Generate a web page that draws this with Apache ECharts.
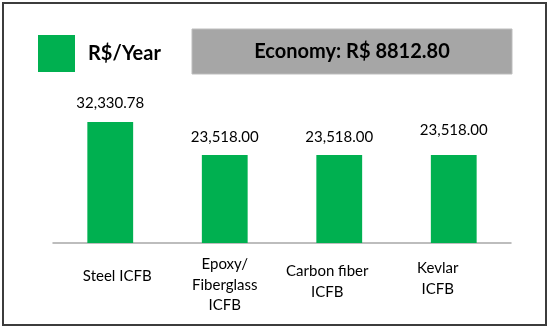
<!DOCTYPE html>
<html>
<head>
<meta charset="utf-8">
<script src="https://cdn.jsdelivr.net/npm/echarts@6/dist/echarts.min.js"></script>
<style>
html,body{margin:0;padding:0;background:#fff;}
#chart{width:550px;height:330px;}
</style>
</head>
<body>
<div id="chart"></div>
<script>
// ---- data ----
var categories = ['Steel ICFB', 'Epoxy/\nFiberglass\nICFB', 'Carbon fiber\nICFB', 'Kevlar\nICFB'];
var values = [32330.78, 23518.00, 23518.00, 23518.00];
var seriesName = 'R$/Year';
var economyText = 'Economy: R$ 8812.80';

// ---- style config (not data) ----
var catPadding = [[12, 0, 0, 14], [0, 0, 0, 0], [7, 24, 0, 0], [4, 32, 0, 0]];
var labelDistance = [11, 10, 10, 17];
var FONT = 'Lato, "Open Sans", sans-serif';

function fmt(v) {
  return v.toLocaleString('en-US', {minimumFractionDigits: 2, maximumFractionDigits: 2});
}

var chart = echarts.init(document.getElementById('chart'), null, {renderer: 'canvas'});
var option = {
  animation: false,
  backgroundColor: '#ffffff',
  textStyle: {fontFamily: FONT},
  grid: {left: 53, right: 39, top: 56, bottom: 87, containLabel: false},
  legend: {
    left: 33, top: 30,
    icon: 'rect',
    itemWidth: 37, itemHeight: 37,
    itemGap: 10,
    textStyle: {fontFamily: FONT, fontSize: 20, fontWeight: 'bold', color: '#000', padding: [0, 0, 0, 8]},
    data: [seriesName]
  },
  xAxis: {
    type: 'category',
    data: categories.map(function (c, i) {
      return {value: c, textStyle: {padding: catPadding[i]}};
    }),
    axisLine: {show: true, lineStyle: {color: '#a8a8a8', width: 1.5}},
    axisTick: {show: false},
    axisLabel: {
      interval: 0, margin: 11, verticalAlign: 'top', lineHeight: 20.5,
      fontFamily: FONT, fontSize: 15, color: '#000'
    }
  },
  yAxis: {
    type: 'value', min: 0, max: 50000, interval: 10000,
    show: false, splitLine: {show: false}
  },
  series: [{
    name: seriesName,
    type: 'bar',
    barWidth: '40%',
    itemStyle: {color: '#00b050'},
    data: values.map(function (v, i) {
      return {value: v, label: {distance: labelDistance[i]}};
    }),
    label: {
      show: true, position: 'top',
      fontFamily: FONT, fontSize: 15, color: '#000',
      formatter: function (p) { return fmt(p.value); }
    }
  }],
  graphic: [
    {
      type: 'rect', z: -10, silent: true,
      shape: {x: 3, y: 3, width: 543, height: 322},
      style: {fill: 'none', stroke: '#3c3c3c', lineWidth: 2}
    },
    {
      type: 'rect', silent: true,
      shape: {x: 192, y: 29, width: 320, height: 45},
      style: {fill: '#a6a6a6', stroke: '#bdbdbd', lineWidth: 1}
    },
    {
      type: 'text', silent: true,
      x: 352, y: 51.5,
      style: {
        text: economyText, align: 'center', verticalAlign: 'middle',
        fontFamily: FONT, fontSize: 20, fontWeight: 'bold', fill: '#000'
      }
    }
  ]
};
chart.setOption(option);
</script>
</body>
</html>
